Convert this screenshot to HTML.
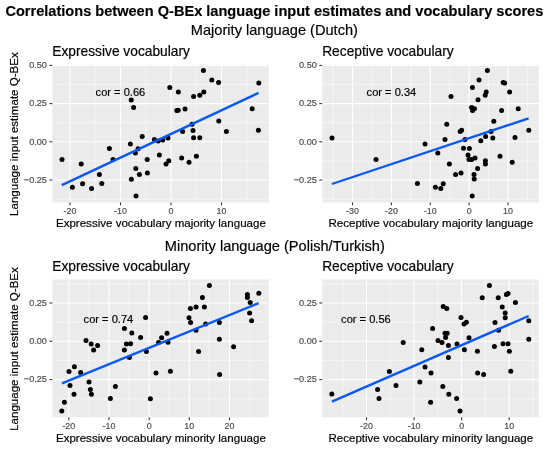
<!DOCTYPE html>
<html lang="en">
<head>
<meta charset="utf-8">
<title>Correlations between Q-BEx language input estimates and vocabulary scores</title>
<style>
html,body{margin:0;padding:0;background:#fff;}
body{width:550px;height:452px;overflow:hidden;}
svg{display:block;font-family:"Liberation Sans",sans-serif;}
.t{font-size:14.59px;font-weight:bold;fill:#000;stroke:#000;stroke-width:0.15px;}
.s{font-size:14.6px;fill:#000;text-anchor:middle;stroke:#000;stroke-width:0.18px;}
.pt{font-size:13.75px;fill:#000;stroke:#000;stroke-width:0.18px;}
.ax{font-size:11.55px;fill:#000;text-anchor:middle;stroke:#000;stroke-width:0.18px;}
.tk{font-size:9.15px;fill:#4d4d4d;stroke:#4d4d4d;stroke-width:0.18px;}
.tx{font-size:8.9px;}
.c{font-size:11.1px;fill:#000;stroke:#000;stroke-width:0.18px;}
.gM{stroke:#fff;stroke-width:1.07;}
.gm{stroke:#fff;stroke-width:0.53;}
.tick{stroke:#333;stroke-width:1.07;}
.ln{stroke:#0a58f4;stroke-width:2.35;fill:none;stroke-linecap:butt;}
circle{fill:#000;}
</style>
</head>
<body>
<svg width="550" height="452" viewBox="0 0 550 452">
<rect width="550" height="452" fill="#fff"/>
<text class="t" x="5.4" y="16">Correlations between Q-BEx language input estimates and vocabulary scores</text>
<text class="s" x="274.4" y="35.3">Majority language (Dutch)</text>
<text class="s" x="274.8" y="250.9">Minority language (Polish/Turkish)</text>
<g id="panel1">
<text class="pt" x="52.3" y="55.6">Expressive vocabulary</text>
<rect x="52.3" y="64.6" width="216.5" height="137.8" fill="#ebebeb"/>
<line class="gm" x1="52.3" x2="268.8" y1="84.5" y2="84.5"/><line class="gm" x1="52.3" x2="268.8" y1="122.7" y2="122.7"/><line class="gm" x1="52.3" x2="268.8" y1="160.9" y2="160.9"/><line class="gm" x1="52.3" x2="268.8" y1="199.2" y2="199.2"/><line class="gm" x1="95.2" x2="95.2" y1="64.6" y2="202.4"/><line class="gm" x1="145.8" x2="145.8" y1="64.6" y2="202.4"/><line class="gm" x1="196.3" x2="196.3" y1="64.6" y2="202.4"/><line class="gm" x1="246.7" x2="246.7" y1="64.6" y2="202.4"/>
<line class="gM" x1="52.3" x2="268.8" y1="65.4" y2="65.4"/><line class="gM" x1="52.3" x2="268.8" y1="103.6" y2="103.6"/><line class="gM" x1="52.3" x2="268.8" y1="141.8" y2="141.8"/><line class="gM" x1="52.3" x2="268.8" y1="180.0" y2="180.0"/><line class="gM" x1="70.0" x2="70.0" y1="64.6" y2="202.4"/><line class="gM" x1="120.5" x2="120.5" y1="64.6" y2="202.4"/><line class="gM" x1="171.0" x2="171.0" y1="64.6" y2="202.4"/><line class="gM" x1="221.5" x2="221.5" y1="64.6" y2="202.4"/>
<circle cx="131.2" cy="100" r="2.5"/><circle cx="133.6" cy="107.6" r="2.5"/><circle cx="142.2" cy="136.6" r="2.5"/><circle cx="130.4" cy="144" r="2.5"/><circle cx="109.4" cy="148.4" r="2.5"/><circle cx="154.4" cy="139.5" r="2.5"/><circle cx="138.1" cy="148.8" r="2.5"/><circle cx="203.4" cy="70.6" r="2.5"/><circle cx="211.8" cy="80" r="2.5"/><circle cx="218.6" cy="82.6" r="2.5"/><circle cx="258.8" cy="83" r="2.5"/><circle cx="169.8" cy="87.4" r="2.5"/><circle cx="178.4" cy="92" r="2.5"/><circle cx="203.8" cy="92" r="2.5"/><circle cx="199.8" cy="95.2" r="2.5"/><circle cx="193.6" cy="96.6" r="2.5"/><circle cx="176.8" cy="110.4" r="2.5"/><circle cx="178.2" cy="110.2" r="2.5"/><circle cx="185" cy="109" r="2.5"/><circle cx="252.2" cy="108.8" r="2.5"/><circle cx="218.8" cy="121" r="2.5"/><circle cx="192" cy="124.2" r="2.5"/><circle cx="193" cy="130.4" r="2.5"/><circle cx="182.6" cy="131.6" r="2.5"/><circle cx="226.4" cy="131.6" r="2.5"/><circle cx="258.4" cy="130.2" r="2.5"/><circle cx="193.6" cy="137.8" r="2.5"/><circle cx="199.8" cy="137.8" r="2.5"/><circle cx="168" cy="138" r="2.5"/><circle cx="162.8" cy="140.1" r="2.5"/><circle cx="158.2" cy="141.1" r="2.5"/><circle cx="135.4" cy="153" r="2.5"/><circle cx="159.4" cy="155" r="2.5"/><circle cx="62" cy="159.6" r="2.5"/><circle cx="113" cy="159.4" r="2.5"/><circle cx="147.2" cy="159.6" r="2.5"/><circle cx="81.2" cy="164" r="2.5"/><circle cx="135.8" cy="168.4" r="2.5"/><circle cx="99.4" cy="174.4" r="2.5"/><circle cx="139.4" cy="174.4" r="2.5"/><circle cx="147.4" cy="173" r="2.5"/><circle cx="131.4" cy="179.2" r="2.5"/><circle cx="82.6" cy="183.8" r="2.5"/><circle cx="101.8" cy="183.6" r="2.5"/><circle cx="72.4" cy="187.2" r="2.5"/><circle cx="91.6" cy="188.4" r="2.5"/><circle cx="136" cy="196" r="2.5"/><circle cx="181.6" cy="158" r="2.5"/><circle cx="196.4" cy="156.2" r="2.5"/><circle cx="189" cy="162.2" r="2.5"/><circle cx="168.8" cy="160.8" r="2.5"/><circle cx="166" cy="164" r="2.5"/>
<line class="ln" x1="61.8" y1="185.1" x2="258.6" y2="92.9"/>
<text class="c" x="95.6" y="95.9">cor = 0.66</text>
<line class="tick" x1="49.4" x2="52.3" y1="65.4" y2="65.4"/><text class="tk" text-anchor="end" x="46.9" y="68.2">0.50</text><line class="tick" x1="49.4" x2="52.3" y1="103.6" y2="103.6"/><text class="tk" text-anchor="end" x="46.9" y="106.4">0.25</text><line class="tick" x1="49.4" x2="52.3" y1="141.8" y2="141.8"/><text class="tk" text-anchor="end" x="46.9" y="144.6">0.00</text><line class="tick" x1="49.4" x2="52.3" y1="180.0" y2="180.0"/><text class="tk" text-anchor="end" x="46.9" y="182.8">−0.25</text>
<line class="tick" x1="70.0" x2="70.0" y1="202.4" y2="205.3"/><text class="tk tx" text-anchor="middle" x="70.0" y="214.0">-20</text><line class="tick" x1="120.5" x2="120.5" y1="202.4" y2="205.3"/><text class="tk tx" text-anchor="middle" x="120.5" y="214.0">-10</text><line class="tick" x1="171.0" x2="171.0" y1="202.4" y2="205.3"/><text class="tk tx" text-anchor="middle" x="171.0" y="214.0">0</text><line class="tick" x1="221.5" x2="221.5" y1="202.4" y2="205.3"/><text class="tk tx" text-anchor="middle" x="221.5" y="214.0">10</text>
<text class="ax" x="160.9" y="227.3">Expressive vocabulary majority language</text>
<text class="ax" transform="translate(18.3,134.1) rotate(-90)" x="0" y="0">Language input estimate Q-BEx</text>
</g>
<g id="panel2">
<text class="pt" x="322.2" y="55.6">Receptive vocabulary</text>
<rect x="322.2" y="64.6" width="216.6" height="137.8" fill="#ebebeb"/>
<line class="gm" x1="322.2" x2="538.8" y1="84.5" y2="84.5"/><line class="gm" x1="322.2" x2="538.8" y1="122.7" y2="122.7"/><line class="gm" x1="322.2" x2="538.8" y1="160.9" y2="160.9"/><line class="gm" x1="322.2" x2="538.8" y1="199.2" y2="199.2"/><line class="gm" x1="333.1" x2="333.1" y1="64.6" y2="202.4"/><line class="gm" x1="371.9" x2="371.9" y1="64.6" y2="202.4"/><line class="gm" x1="410.8" x2="410.8" y1="64.6" y2="202.4"/><line class="gm" x1="449.7" x2="449.7" y1="64.6" y2="202.4"/><line class="gm" x1="488.6" x2="488.6" y1="64.6" y2="202.4"/><line class="gm" x1="527.4" x2="527.4" y1="64.6" y2="202.4"/>
<line class="gM" x1="322.2" x2="538.8" y1="65.4" y2="65.4"/><line class="gM" x1="322.2" x2="538.8" y1="103.6" y2="103.6"/><line class="gM" x1="322.2" x2="538.8" y1="141.8" y2="141.8"/><line class="gM" x1="322.2" x2="538.8" y1="180.0" y2="180.0"/><line class="gM" x1="352.5" x2="352.5" y1="64.6" y2="202.4"/><line class="gM" x1="391.4" x2="391.4" y1="64.6" y2="202.4"/><line class="gM" x1="430.25" x2="430.25" y1="64.6" y2="202.4"/><line class="gM" x1="469.1" x2="469.1" y1="64.6" y2="202.4"/><line class="gM" x1="508.0" x2="508.0" y1="64.6" y2="202.4"/>
<circle cx="332" cy="138" r="2.5"/><circle cx="425" cy="144" r="2.5"/><circle cx="487.4" cy="70.6" r="2.5"/><circle cx="479" cy="80" r="2.5"/><circle cx="503.2" cy="82.6" r="2.5"/><circle cx="504.6" cy="83" r="2.5"/><circle cx="472.4" cy="87.4" r="2.5"/><circle cx="486.2" cy="92" r="2.5"/><circle cx="509.6" cy="92" r="2.5"/><circle cx="485.2" cy="95.2" r="2.5"/><circle cx="451" cy="96.6" r="2.5"/><circle cx="478" cy="99.8" r="2.5"/><circle cx="471.6" cy="107.4" r="2.5"/><circle cx="474.4" cy="108.8" r="2.5"/><circle cx="472.6" cy="110.4" r="2.5"/><circle cx="501.6" cy="110.4" r="2.5"/><circle cx="518.2" cy="108.8" r="2.5"/><circle cx="493.8" cy="121.2" r="2.5"/><circle cx="446.8" cy="124.2" r="2.5"/><circle cx="461.6" cy="130.2" r="2.5"/><circle cx="460.2" cy="131.6" r="2.5"/><circle cx="528.8" cy="130.2" r="2.5"/><circle cx="491" cy="131.6" r="2.5"/><circle cx="485.6" cy="136.6" r="2.5"/><circle cx="492.8" cy="138" r="2.5"/><circle cx="515" cy="137.6" r="2.5"/><circle cx="445" cy="139.6" r="2.5"/><circle cx="465" cy="139.6" r="2.5"/><circle cx="480.8" cy="140.8" r="2.5"/><circle cx="463.5" cy="148.3" r="2.5"/><circle cx="469.4" cy="148.4" r="2.5"/><circle cx="376" cy="159.6" r="2.5"/><circle cx="417.4" cy="183.6" r="2.5"/><circle cx="437.8" cy="153" r="2.5"/><circle cx="468" cy="155" r="2.5"/><circle cx="500" cy="156.2" r="2.5"/><circle cx="475" cy="158" r="2.5"/><circle cx="469" cy="159.6" r="2.5"/><circle cx="471.6" cy="159.6" r="2.5"/><circle cx="485.4" cy="160.8" r="2.5"/><circle cx="512.2" cy="162.2" r="2.5"/><circle cx="449.4" cy="164" r="2.5"/><circle cx="485.4" cy="164" r="2.5"/><circle cx="477.6" cy="168.4" r="2.5"/><circle cx="461" cy="173" r="2.5"/><circle cx="455.6" cy="174.4" r="2.5"/><circle cx="474" cy="174.4" r="2.5"/><circle cx="474.2" cy="179" r="2.5"/><circle cx="443.2" cy="183.8" r="2.5"/><circle cx="435.4" cy="187.2" r="2.5"/><circle cx="440.8" cy="188.4" r="2.5"/><circle cx="472.2" cy="196" r="2.5"/>
<line class="ln" x1="331.9" y1="184.0" x2="528.6" y2="118.4"/>
<text class="c" x="366.6" y="95.5">cor = 0.34</text>
<line class="tick" x1="319.3" x2="322.2" y1="65.4" y2="65.4"/><text class="tk" text-anchor="end" x="316.8" y="68.2">0.50</text><line class="tick" x1="319.3" x2="322.2" y1="103.6" y2="103.6"/><text class="tk" text-anchor="end" x="316.8" y="106.4">0.25</text><line class="tick" x1="319.3" x2="322.2" y1="141.8" y2="141.8"/><text class="tk" text-anchor="end" x="316.8" y="144.6">0.00</text><line class="tick" x1="319.3" x2="322.2" y1="180.0" y2="180.0"/><text class="tk" text-anchor="end" x="316.8" y="182.8">−0.25</text>
<line class="tick" x1="352.5" x2="352.5" y1="202.4" y2="205.3"/><text class="tk tx" text-anchor="middle" x="352.5" y="214.0">-30</text><line class="tick" x1="391.4" x2="391.4" y1="202.4" y2="205.3"/><text class="tk tx" text-anchor="middle" x="391.4" y="214.0">-20</text><line class="tick" x1="430.25" x2="430.25" y1="202.4" y2="205.3"/><text class="tk tx" text-anchor="middle" x="430.25" y="214.0">-10</text><line class="tick" x1="469.1" x2="469.1" y1="202.4" y2="205.3"/><text class="tk tx" text-anchor="middle" x="469.1" y="214.0">0</text><line class="tick" x1="508.0" x2="508.0" y1="202.4" y2="205.3"/><text class="tk tx" text-anchor="middle" x="508.0" y="214.0">10</text>
<text class="ax" x="430.8" y="227.3">Receptive vocabulary majority language</text>
</g>
<g id="panel3">
<text class="pt" x="52.3" y="270.5">Expressive vocabulary</text>
<rect x="52.3" y="279.5" width="216.5" height="137.8" fill="#ebebeb"/>
<line class="gm" x1="52.3" x2="268.8" y1="283.9" y2="283.9"/><line class="gm" x1="52.3" x2="268.8" y1="322.1" y2="322.1"/><line class="gm" x1="52.3" x2="268.8" y1="360.4" y2="360.4"/><line class="gm" x1="52.3" x2="268.8" y1="398.8" y2="398.8"/><line class="gm" x1="88.9" x2="88.9" y1="279.5" y2="417.3"/><line class="gm" x1="129.1" x2="129.1" y1="279.5" y2="417.3"/><line class="gm" x1="169.2" x2="169.2" y1="279.5" y2="417.3"/><line class="gm" x1="209.4" x2="209.4" y1="279.5" y2="417.3"/><line class="gm" x1="249.6" x2="249.6" y1="279.5" y2="417.3"/>
<line class="gM" x1="52.3" x2="268.8" y1="303.0" y2="303.0"/><line class="gM" x1="52.3" x2="268.8" y1="341.25" y2="341.25"/><line class="gM" x1="52.3" x2="268.8" y1="379.6" y2="379.6"/><line class="gM" x1="68.8" x2="68.8" y1="279.5" y2="417.3"/><line class="gM" x1="109.0" x2="109.0" y1="279.5" y2="417.3"/><line class="gM" x1="149.2" x2="149.2" y1="279.5" y2="417.3"/><line class="gM" x1="189.3" x2="189.3" y1="279.5" y2="417.3"/><line class="gM" x1="229.5" x2="229.5" y1="279.5" y2="417.3"/>
<circle cx="145.6" cy="317.6" r="2.5"/><circle cx="124.4" cy="328.4" r="2.5"/><circle cx="131.8" cy="333" r="2.5"/><circle cx="140.6" cy="337.6" r="2.5"/><circle cx="86" cy="340.6" r="2.5"/><circle cx="91.2" cy="344" r="2.5"/><circle cx="97.6" cy="345.4" r="2.5"/><circle cx="93.6" cy="350" r="2.5"/><circle cx="126.4" cy="344" r="2.5"/><circle cx="130.6" cy="343.8" r="2.5"/><circle cx="124.4" cy="350" r="2.5"/><circle cx="158.6" cy="342.4" r="2.5"/><circle cx="146.4" cy="351.4" r="2.5"/><circle cx="129.4" cy="357.4" r="2.5"/><circle cx="209.4" cy="285.6" r="2.5"/><circle cx="258.8" cy="293.2" r="2.5"/><circle cx="247.4" cy="294.6" r="2.5"/><circle cx="247.4" cy="297.6" r="2.5"/><circle cx="202.4" cy="297.6" r="2.5"/><circle cx="250.2" cy="302.4" r="2.5"/><circle cx="196" cy="307" r="2.5"/><circle cx="204.4" cy="307" r="2.5"/><circle cx="190.4" cy="308.6" r="2.5"/><circle cx="249.6" cy="313" r="2.5"/><circle cx="189" cy="317.8" r="2.5"/><circle cx="251.6" cy="320.8" r="2.5"/><circle cx="190.6" cy="322.4" r="2.5"/><circle cx="205.6" cy="324" r="2.5"/><circle cx="219.4" cy="322.4" r="2.5"/><circle cx="196" cy="330.2" r="2.5"/><circle cx="167" cy="333.2" r="2.5"/><circle cx="161.6" cy="337.8" r="2.5"/><circle cx="219.4" cy="339.2" r="2.5"/><circle cx="168" cy="342.2" r="2.5"/><circle cx="233.6" cy="346.8" r="2.5"/><circle cx="198.6" cy="351.4" r="2.5"/><circle cx="74.4" cy="366.8" r="2.5"/><circle cx="69" cy="371.4" r="2.5"/><circle cx="80.6" cy="372.6" r="2.5"/><circle cx="156" cy="373" r="2.5"/><circle cx="89" cy="382" r="2.5"/><circle cx="70" cy="385.4" r="2.5"/><circle cx="115.4" cy="386.6" r="2.5"/><circle cx="90.4" cy="389.4" r="2.5"/><circle cx="74" cy="394.2" r="2.5"/><circle cx="91.4" cy="394.2" r="2.5"/><circle cx="110.4" cy="398.6" r="2.5"/><circle cx="150.4" cy="398.8" r="2.5"/><circle cx="64.4" cy="402.2" r="2.5"/><circle cx="61.8" cy="411" r="2.5"/><circle cx="170.4" cy="371.2" r="2.5"/><circle cx="219.6" cy="374.6" r="2.5"/>
<line class="ln" x1="62.0" y1="383.3" x2="258.6" y2="303.2"/>
<text class="c" x="83.6" y="323.3">cor = 0.74</text>
<line class="tick" x1="49.4" x2="52.3" y1="303.0" y2="303.0"/><text class="tk" text-anchor="end" x="46.9" y="305.8">0.25</text><line class="tick" x1="49.4" x2="52.3" y1="341.25" y2="341.25"/><text class="tk" text-anchor="end" x="46.9" y="344.1">0.00</text><line class="tick" x1="49.4" x2="52.3" y1="379.6" y2="379.6"/><text class="tk" text-anchor="end" x="46.9" y="382.4">−0.25</text>
<line class="tick" x1="68.8" x2="68.8" y1="417.3" y2="420.2"/><text class="tk tx" text-anchor="middle" x="68.8" y="428.9">-20</text><line class="tick" x1="109.0" x2="109.0" y1="417.3" y2="420.2"/><text class="tk tx" text-anchor="middle" x="109.0" y="428.9">-10</text><line class="tick" x1="149.2" x2="149.2" y1="417.3" y2="420.2"/><text class="tk tx" text-anchor="middle" x="149.2" y="428.9">0</text><line class="tick" x1="189.3" x2="189.3" y1="417.3" y2="420.2"/><text class="tk tx" text-anchor="middle" x="189.3" y="428.9">10</text><line class="tick" x1="229.5" x2="229.5" y1="417.3" y2="420.2"/><text class="tk tx" text-anchor="middle" x="229.5" y="428.9">20</text>
<text class="ax" x="160.9" y="442.2">Expressive vocabulary minority language</text>
<text class="ax" transform="translate(18.3,349.0) rotate(-90)" x="0" y="0">Language input estimate Q-BEx</text>
</g>
<g id="panel4">
<text class="pt" x="322.2" y="270.5">Receptive vocabulary</text>
<rect x="322.2" y="279.5" width="216.6" height="137.8" fill="#ebebeb"/>
<line class="gm" x1="322.2" x2="538.8" y1="283.9" y2="283.9"/><line class="gm" x1="322.2" x2="538.8" y1="322.1" y2="322.1"/><line class="gm" x1="322.2" x2="538.8" y1="360.4" y2="360.4"/><line class="gm" x1="322.2" x2="538.8" y1="398.8" y2="398.8"/><line class="gm" x1="342.7" x2="342.7" y1="279.5" y2="417.3"/><line class="gm" x1="390.3" x2="390.3" y1="279.5" y2="417.3"/><line class="gm" x1="437.9" x2="437.9" y1="279.5" y2="417.3"/><line class="gm" x1="485.4" x2="485.4" y1="279.5" y2="417.3"/><line class="gm" x1="533.0" x2="533.0" y1="279.5" y2="417.3"/>
<line class="gM" x1="322.2" x2="538.8" y1="303.0" y2="303.0"/><line class="gM" x1="322.2" x2="538.8" y1="341.25" y2="341.25"/><line class="gM" x1="322.2" x2="538.8" y1="379.6" y2="379.6"/><line class="gM" x1="366.5" x2="366.5" y1="279.5" y2="417.3"/><line class="gM" x1="414.1" x2="414.1" y1="279.5" y2="417.3"/><line class="gM" x1="461.6" x2="461.6" y1="279.5" y2="417.3"/><line class="gM" x1="509.2" x2="509.2" y1="279.5" y2="417.3"/>
<circle cx="403.2" cy="342.4" r="2.5"/><circle cx="421.8" cy="349.8" r="2.5"/><circle cx="489.4" cy="285.6" r="2.5"/><circle cx="508" cy="293.4" r="2.5"/><circle cx="506.4" cy="294.6" r="2.5"/><circle cx="482.2" cy="297.8" r="2.5"/><circle cx="498.2" cy="297.8" r="2.5"/><circle cx="515.4" cy="302.4" r="2.5"/><circle cx="443.2" cy="306.6" r="2.5"/><circle cx="446.8" cy="308.6" r="2.5"/><circle cx="502.2" cy="307" r="2.5"/><circle cx="505.2" cy="313" r="2.5"/><circle cx="461" cy="317.6" r="2.5"/><circle cx="505.2" cy="317.8" r="2.5"/><circle cx="528.8" cy="320.8" r="2.5"/><circle cx="466.4" cy="322.2" r="2.5"/><circle cx="464" cy="324" r="2.5"/><circle cx="495" cy="322.4" r="2.5"/><circle cx="432.6" cy="328.4" r="2.5"/><circle cx="498.6" cy="330.2" r="2.5"/><circle cx="445" cy="333.2" r="2.5"/><circle cx="447.2" cy="333.2" r="2.5"/><circle cx="445.6" cy="337.6" r="2.5"/><circle cx="469" cy="337.8" r="2.5"/><circle cx="528.8" cy="339.2" r="2.5"/><circle cx="438" cy="340.6" r="2.5"/><circle cx="442" cy="342.4" r="2.5"/><circle cx="448.4" cy="345.4" r="2.5"/><circle cx="457" cy="344" r="2.5"/><circle cx="503" cy="343.8" r="2.5"/><circle cx="508" cy="343.8" r="2.5"/><circle cx="494.4" cy="346.6" r="2.5"/><circle cx="464.4" cy="349.8" r="2.5"/><circle cx="477.4" cy="351.2" r="2.5"/><circle cx="509.4" cy="351.2" r="2.5"/><circle cx="448.4" cy="357.4" r="2.5"/><circle cx="425" cy="367" r="2.5"/><circle cx="389.4" cy="371.4" r="2.5"/><circle cx="419.8" cy="382" r="2.5"/><circle cx="396" cy="385.4" r="2.5"/><circle cx="377.6" cy="389.6" r="2.5"/><circle cx="331.8" cy="394" r="2.5"/><circle cx="379" cy="398.6" r="2.5"/><circle cx="431" cy="373" r="2.5"/><circle cx="510.8" cy="371.2" r="2.5"/><circle cx="477.6" cy="373" r="2.5"/><circle cx="483.6" cy="374.6" r="2.5"/><circle cx="442.8" cy="386.6" r="2.5"/><circle cx="448.8" cy="394.2" r="2.5"/><circle cx="456.6" cy="398.6" r="2.5"/><circle cx="430.6" cy="402.2" r="2.5"/><circle cx="460" cy="411" r="2.5"/>
<line class="ln" x1="331.9" y1="401.6" x2="528.6" y2="316"/>
<text class="c" x="341.1" y="323.3">cor = 0.56</text>
<line class="tick" x1="319.3" x2="322.2" y1="303.0" y2="303.0"/><text class="tk" text-anchor="end" x="316.8" y="305.8">0.25</text><line class="tick" x1="319.3" x2="322.2" y1="341.25" y2="341.25"/><text class="tk" text-anchor="end" x="316.8" y="344.1">0.00</text><line class="tick" x1="319.3" x2="322.2" y1="379.6" y2="379.6"/><text class="tk" text-anchor="end" x="316.8" y="382.4">−0.25</text>
<line class="tick" x1="366.5" x2="366.5" y1="417.3" y2="420.2"/><text class="tk tx" text-anchor="middle" x="366.5" y="428.9">-20</text><line class="tick" x1="414.1" x2="414.1" y1="417.3" y2="420.2"/><text class="tk tx" text-anchor="middle" x="414.1" y="428.9">-10</text><line class="tick" x1="461.6" x2="461.6" y1="417.3" y2="420.2"/><text class="tk tx" text-anchor="middle" x="461.6" y="428.9">0</text><line class="tick" x1="509.2" x2="509.2" y1="417.3" y2="420.2"/><text class="tk tx" text-anchor="middle" x="509.2" y="428.9">10</text>
<text class="ax" x="430.8" y="442.2">Receptive vocabulary minority language</text>
</g>
</svg>
</body>
</html>
